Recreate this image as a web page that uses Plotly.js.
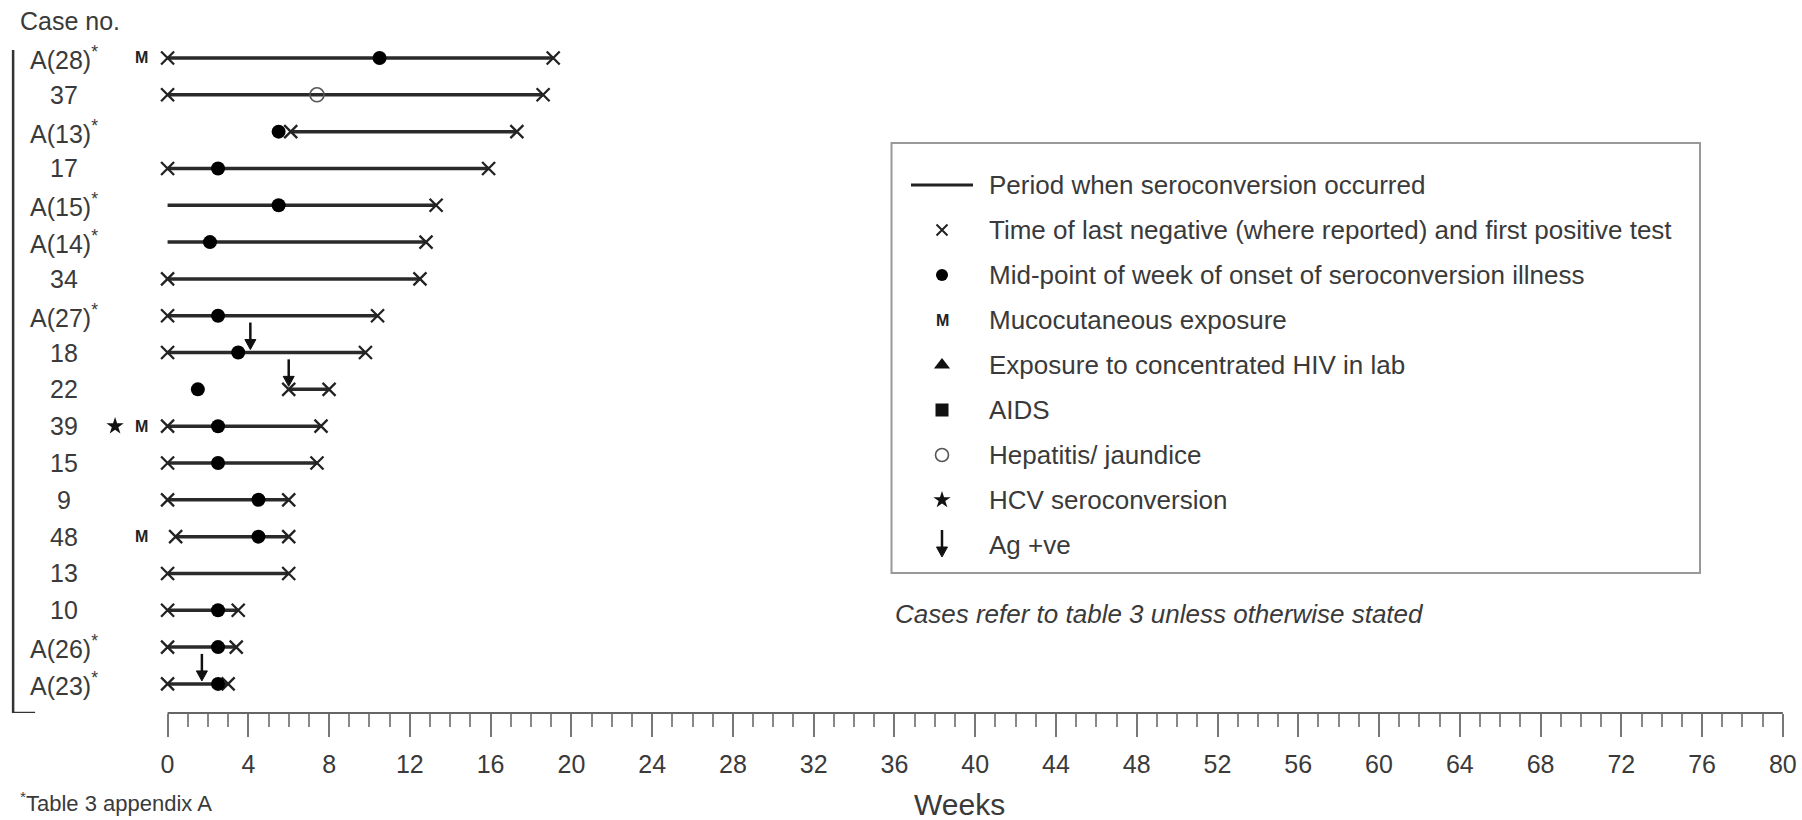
<!DOCTYPE html>
<html>
<head>
<meta charset="utf-8">
<script src="https://cdn.plot.ly/plotly-3.0.1.min.js"></script>
<style>
html,body{margin:0;padding:0;background:#ffffff;}
#chart{width:1802px;height:820px;}
</style>
</head>
<body>
<div id="chart"></div>
<script>
// ---------------- data (weeks) ----------------
const cases = ['A(28)*','37','A(13)*','17','A(15)*','A(14)*','34','A(27)*','18','22','39','15','9','48','13','10','A(26)*','A(23)*'];
const periodStart   = [0, 0, 6.1, 0, 0, 0, 0, 0, 0, 6.0, 0, 0, 0, 0.4, 0, 0, 0, 0];
const lastNegative  = [0, 0, 6.1, 0, null, null, 0, 0, 0, 6.0, 0, 0, 0, 0.4, 0, 0, 0, 0];
const firstPositive = [19.1, 18.6, 17.3, 15.9, 13.3, 12.8, 12.5, 10.4, 9.8, 8.0, 7.6, 7.4, 6.0, 6.0, 6.0, 3.5, 3.4, 3.0];
const illnessOnset  = [10.5, null, 5.5, 2.5, 5.5, 2.1, null, 2.5, 3.5, 1.5, 2.5, 2.5, 4.5, 4.5, null, 2.5, 2.5, 2.5];
const hepatitis     = [null, 7.4, null, null, null, null, null, null, null, null, null, null, null, null, null, null, null, null];
const agPositive    = [null, null, null, null, null, null, null, null, 4.1, 6.0, null, null, null, null, null, null, null, 1.7];
const mucocutaneous = [true, false, false, false, false, false, false, false, false, false, true, false, false, true, false, false, false, false];
const hcvSeroconv   = [false, false, false, false, false, false, false, false, false, false, true, false, false, false, false, false, false, false];
const weekTicks     = [0,4,8,12,16,20,24,28,32,36,40,44,48,52,56,60,64,68,72,76,80];
const weekTickText  = ['0','4','8','12','16','20','24','28','32','36','40','44','48','52','56','60','64','68','72','76','80'];
const legendItems = [
  {kind:'line',   label:'Period when seroconversion occurred'},
  {kind:'x',      label:'Time of last negative (where reported) and first positive test'},
  {kind:'dot',    label:'Mid-point of week of onset of seroconversion illness'},
  {kind:'M',      label:'Mucocutaneous exposure'},
  {kind:'tri',    label:'Exposure to concentrated HIV in lab'},
  {kind:'square', label:'AIDS'},
  {kind:'open',   label:'Hepatitis/ jaundice'},
  {kind:'star',   label:'HCV seroconversion'},
  {kind:'arrow',  label:'Ag +ve'}
];

// ---------------- layout constants ----------------
const FONT = 'Liberation Sans, Arial, Helvetica, sans-serif';
const TXT = '#3a3a3a';
const xRange = [-8.2, 80.8];
const yRange = [17.79, -1.575];
const labelCol = -5.13, mCol = -1.28, starCol = -2.6;
const minorTicks = [];
for (let w = 0; w <= 80; w++) if (w % 4 !== 0) minorTicks.push(w);

// ---------------- traces ----------------
const rows = cases.map((c, i) => i);
const lineX = [], lineY = [];
rows.forEach(i => { lineX.push(periodStart[i], firstPositive[i], null); lineY.push(i, i, null); });

const traces = [];
traces.push({x: lineX, y: lineY, mode: 'lines', line: {color: '#2a2a2a', width: 3.5}, hoverinfo: 'skip', showlegend: false});

const xsym = {symbol: 'x-thin-open', size: 13, line: {width: 2.3, color: '#222'}, color: '#222'};
traces.push({x: rows.filter(i => lastNegative[i] !== null).map(i => lastNegative[i]),
             y: rows.filter(i => lastNegative[i] !== null), mode: 'markers', marker: xsym, showlegend: false});
traces.push({x: firstPositive, y: rows, mode: 'markers', marker: xsym, showlegend: false});
traces.push({x: rows.filter(i => illnessOnset[i] !== null).map(i => illnessOnset[i]),
             y: rows.filter(i => illnessOnset[i] !== null), mode: 'markers',
             marker: {symbol: 'circle', size: 14, color: '#000'}, showlegend: false});
traces.push({x: rows.filter(i => hepatitis[i] !== null).map(i => hepatitis[i]),
             y: rows.filter(i => hepatitis[i] !== null), mode: 'markers',
             marker: {symbol: 'circle-open', size: 14, color: '#555', line: {width: 1.6, color: '#555'}}, showlegend: false});
traces.push({x: rows.filter(i => hcvSeroconv[i]).map(() => starCol),
             y: rows.filter(i => hcvSeroconv[i]), mode: 'markers',
             marker: {symbol: 'star', size: 13, color: '#111'}, showlegend: false});

// ---------------- shapes ----------------
const shapes = [
  {type: 'line', xref: 'x', yref: 'paper', x0: 0, x1: 80, y0: 0, y1: 0, line: {color: '#666', width: 2}},
  {type: 'line', xref: 'x', yref: 'y', x0: -7.65, x1: -7.65, y0: -0.22, y1: yRange[0], line: {color: '#333', width: 2.5}},
  {type: 'line', xref: 'x', yref: 'y', x0: -7.65, x1: -6.56, y0: yRange[0], y1: yRange[0], line: {color: '#333', width: 2.5}},
  {type: 'rect', xref: 'x2', yref: 'y2', x0: 891.5, x1: 1700, y0: 143, y1: 573, line: {color: '#999', width: 2}, fillcolor: 'rgba(0,0,0,0)'}
];
// down-arrow glyph (stem + head) anchored at a data point, sized in pixels
function agArrow(xa, xref, ya, yref) {
  shapes.push({type: 'line', xref: xref, yref: yref, xsizemode: 'pixel', ysizemode: 'pixel', xanchor: xa, yanchor: ya,
               x0: 0, x1: 0, y0: 11, y1: 30, line: {color: '#111', width: 2.5}});
  shapes.push({type: 'path', xref: xref, yref: yref, xsizemode: 'pixel', ysizemode: 'pixel', xanchor: xa, yanchor: ya,
               path: 'M -5.5,13 L 5.5,13 L 0,3 Z', fillcolor: '#111', line: {color: '#111', width: 1}});
}

// ---------------- annotations ----------------
const ann = [];
cases.forEach((c, i) => {
  ann.push({x: labelCol, y: i, xref: 'x', yref: 'y', text: c.replace('*', '<sup>*</sup>'),
            showarrow: false, xanchor: 'center', yanchor: 'middle', font: {family: FONT, size: 25, color: TXT}});
  if (mucocutaneous[i]) ann.push({x: mCol, y: i, xref: 'x', yref: 'y', text: '<b>M</b>', showarrow: false,
            xanchor: 'center', yanchor: 'middle', font: {family: FONT, size: 16, color: '#222'}});
  if (agPositive[i] !== null) agArrow(agPositive[i], 'x', i, 'y');
});
ann.push({x: -7.4, y: -1.0, xref: 'x', yref: 'y', text: 'Case no.', showarrow: false, xanchor: 'left', yanchor: 'middle',
          font: {family: FONT, size: 25, color: TXT}});
ann.push({x: 39.2, y: (713 - 805) / 713, xref: 'x', yref: 'paper', text: 'Weeks', showarrow: false,
          xanchor: 'center', yanchor: 'middle', font: {family: FONT, size: 30, color: TXT}});
ann.push({x: (18 - 2) / 1797, y: (713 - 818) / 713, xref: 'paper', yref: 'paper', text: '<sup>*</sup>Table 3 appendix A',
          showarrow: false, xanchor: 'left', yanchor: 'bottom', font: {family: FONT, size: 22, color: TXT}});

// ---------------- legend (overlay pixel axes x2/y2) ----------------
const legSymX = 942, legTextX = 987, legTop = 185, legGap = 45;
const legMarkers = {
  x:      {symbol: 'x-thin-open', size: 11, line: {width: 2, color: '#222'}, color: '#222'},
  dot:    {symbol: 'circle', size: 12, color: '#000'},
  tri:    {symbol: 'triangle-up', size: 14, color: '#111'},
  square: {symbol: 'square', size: 13, color: '#111'},
  open:   {symbol: 'circle-open', size: 13, color: '#555', line: {width: 1.6, color: '#555'}},
  star:   {symbol: 'star', size: 13, color: '#111'}
};
legendItems.forEach((it, k) => {
  const ly = legTop + k * legGap;
  ann.push({x: legTextX, y: ly, xref: 'x2', yref: 'y2', text: it.label, showarrow: false, xanchor: 'left', yanchor: 'middle',
            font: {family: FONT, size: 26, color: TXT}});
  if (it.kind === 'line') {
    traces.push({x: [911, 973], y: [ly, ly], xaxis: 'x2', yaxis: 'y2', mode: 'lines', line: {color: '#222', width: 3}, showlegend: false, hoverinfo: 'skip'});
  } else if (it.kind === 'M') {
    ann.push({x: legSymX, y: ly, xref: 'x2', yref: 'y2', text: '<b>M</b>', showarrow: false, xanchor: 'center', yanchor: 'middle',
              font: {family: FONT, size: 16, color: '#222'}});
  } else if (it.kind === 'arrow') {
    agArrow(legSymX, 'x2', ly + 15, 'y2');
  } else {
    traces.push({x: [legSymX], y: [ly], xaxis: 'x2', yaxis: 'y2', mode: 'markers', marker: legMarkers[it.kind], showlegend: false, hoverinfo: 'skip'});
  }
});
ann.push({x: 893, y: 614, xref: 'x2', yref: 'y2', text: '<i>Cases refer to table 3 unless otherwise stated</i>', showarrow: false,
          xanchor: 'left', yanchor: 'middle', font: {family: FONT, size: 26, color: TXT}});

const layout = {
  width: 1802, height: 820,
  margin: {l: 2, r: 3, t: 0, b: 107},
  paper_bgcolor: '#fff', plot_bgcolor: '#fff',
  font: {family: FONT, color: TXT},
  showlegend: false,
  xaxis: {
    range: xRange, fixedrange: true, showgrid: false, zeroline: false, showline: false,
    tickmode: 'array', tickvals: weekTicks, ticktext: weekTickText,
    ticks: 'outside', ticklen: 23, tickwidth: 2, tickcolor: '#777',
    ticklabelstandoff: 6,
    tickfont: {family: FONT, size: 25, color: TXT},
    minor: {tickmode: 'array', tickvals: minorTicks, ticks: 'outside', ticklen: 13, tickwidth: 2, tickcolor: '#888', showgrid: false}
  },
  yaxis: {range: yRange, fixedrange: true, visible: false, showgrid: false, zeroline: false},
  xaxis2: {overlaying: 'x', anchor: 'y2', range: [2, 1799], visible: false, fixedrange: true},
  yaxis2: {overlaying: 'y', anchor: 'x2', range: [713, 0], visible: false, fixedrange: true},
  annotations: ann,
  shapes: shapes
};

Plotly.newPlot('chart', traces, layout, {displayModeBar: false, staticPlot: true});
</script>
</body>
</html>
